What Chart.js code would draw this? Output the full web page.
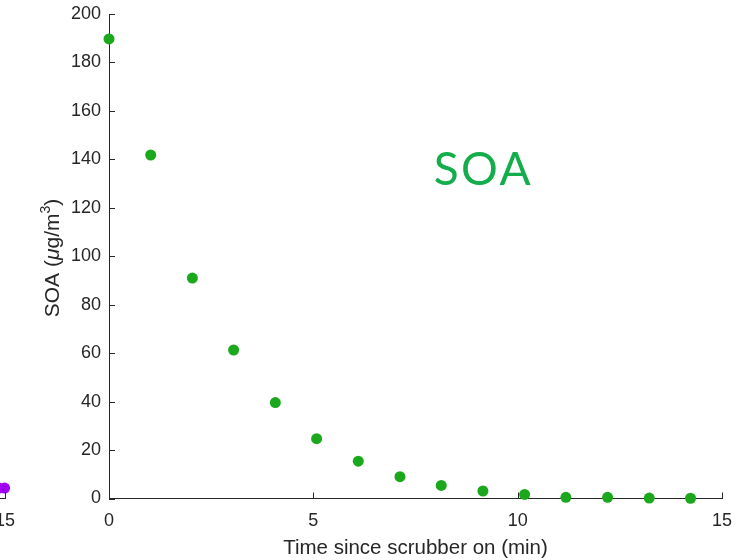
<!DOCTYPE html>
<html>
<head>
<meta charset="utf-8">
<script src="https://cdn.jsdelivr.net/npm/chart.js@4.4.0/dist/chart.umd.min.js"></script>
<style>
  html, body { margin: 0; padding: 0; background: #fff; overflow: hidden; }
  #wrap { position: relative; width: 756px; height: 560px; }
  #prevChart { position: absolute; left: -620px; top: 0; }
  #soaChart { position: absolute; left: 0; top: 0; }
</style>
</head>
<body>
<div id="wrap">
  <canvas id="prevChart" width="640" height="560"></canvas>
  <canvas id="soaChart" width="756" height="560"></canvas>
</div>
<script>
// SOA decay after the scrubber is switched on
const timeMin = [0, 1.02, 2.04, 3.05, 4.07, 5.08, 6.1, 7.12, 8.13, 9.15, 10.17, 11.18, 12.2, 13.22, 14.23];
const soa = [189.7, 141.8, 91.0, 61.3, 39.6, 24.7, 15.4, 9.0, 5.4, 3.1, 1.7, 0.5, 0.5, 0.2, 0.1];

// tail of the neighbouring panel
const prevTime = [14.85, 14.99];
const prevValue = [4.3, 4.3];

const xTicks = [0, 5, 10, 15];
const yTicks = [0, 20, 40, 60, 80, 100, 120, 140, 160, 180, 200];

const axisColor = '#262626';
const tickFont = { family: 'Liberation Sans, Arial, sans-serif', size: 18 };

// MATLAB-style ticks pointing into the axes
const inwardTicks = {
  id: 'inwardTicks',
  afterDraw(chart) {
    const { ctx, chartArea } = chart;
    ctx.save();
    ctx.strokeStyle = axisColor;
    ctx.lineWidth = 1;
    const x = chart.scales.x;
    xTicks.forEach(v => {
      const px = Math.round(x.getPixelForValue(v)) + 0.5;
      ctx.beginPath();
      ctx.moveTo(px, chartArea.bottom);
      ctx.lineTo(px, chartArea.bottom - 6);
      ctx.stroke();
    });
    const y = chart.scales.y;
    if (y.options.display) {
      yTicks.forEach(v => {
        const py = Math.round(y.getPixelForValue(v)) + 0.5;
        ctx.beginPath();
        ctx.moveTo(chartArea.left, py);
        ctx.lineTo(chartArea.left + 6, py);
        ctx.stroke();
      });
    }
    ctx.restore();
  }
};

// axis titles (italic mu, superscript 3) and the in-plot label
const soaText = {
  id: 'soaText',
  afterDraw(chart) {
    const { ctx, chartArea } = chart;
    ctx.save();
    ctx.fillStyle = axisColor;
    ctx.textBaseline = 'alphabetic';
    const base = '21px Liberation Sans, Arial, sans-serif';
    const ital = 'italic 21px Liberation Sans, Arial, sans-serif';
    const sup = '14px Liberation Sans, Arial, sans-serif';
    const parts = [
      { t: 'SOA (', f: base, dy: 0 },
      { t: 'μ', f: ital, dy: 0 },
      { t: 'g/m', f: base, dy: 0 },
      { t: '3', f: sup, dy: -9 },
      { t: ')', f: base, dy: 0 }
    ];
    let total = 0;
    parts.forEach(p => { ctx.font = p.f; p.w = ctx.measureText(p.t).width; total += p.w; });
    ctx.translate(59, 258);
    ctx.rotate(-Math.PI / 2);
    let cx = -total / 2;
    parts.forEach(p => {
      ctx.font = p.f;
      ctx.fillText(p.t, cx, p.dy);
      cx += p.w;
    });
    ctx.restore();

    ctx.save();
    ctx.fillStyle = axisColor;
    ctx.font = '20.5px Liberation Sans, Arial, sans-serif';
    ctx.textAlign = 'center';
    ctx.textBaseline = 'middle';
    ctx.fillText('Time since scrubber on (min)', (chartArea.left + chartArea.right) / 2, 548);
    ctx.restore();

    ctx.save();
    ctx.fillStyle = '#13ad4b';
    ctx.font = '46px Lato, sans-serif';
    ctx.letterSpacing = '2.5px';
    ctx.textAlign = 'center';
    ctx.textBaseline = 'middle';
    ctx.fillText('SOA', chart.scales.x.getPixelForValue(9.15) + 0.5, chart.scales.y.getPixelForValue(135.6));
    ctx.restore();
  }
};

function xScale() {
  return {
    type: 'linear',
    min: 0,
    max: 15,
    afterBuildTicks(scale) { scale.ticks = xTicks.map(v => ({ value: v })); },
    afterFit(scale) { scale.height = 61.5; },
    grid: { display: false },
    border: { display: true, color: axisColor, width: 1 },
    ticks: { color: axisColor, font: tickFont, padding: 4, maxRotation: 0 }
  };
}

new Chart(document.getElementById('soaChart'), {
  type: 'scatter',
  data: {
    datasets: [{
      data: timeMin.map((t, i) => ({ x: t, y: soa[i] })),
      backgroundColor: '#1ca81c',
      borderWidth: 0,
      pointRadius: 5.5,
      clip: false
    }]
  },
  options: {
    responsive: false,
    animation: false,
    layout: { padding: { left: 0, right: 34, top: 14, bottom: 0 } },
    plugins: { legend: { display: false }, tooltip: { enabled: false } },
    scales: {
      x: xScale(),
      y: {
        type: 'linear',
        min: 0,
        max: 200,
        afterBuildTicks(scale) { scale.ticks = yTicks.map(v => ({ value: v })); },
        afterFit(scale) { scale.width = 109; },
        grid: { display: false },
        border: { display: true, color: axisColor, width: 1 },
        ticks: { color: axisColor, font: tickFont, padding: 0 }
      }
    }
  },
  plugins: [inwardTicks, soaText]
});

new Chart(document.getElementById('prevChart'), {
  type: 'scatter',
  data: {
    datasets: [{
      data: prevTime.map((t, i) => ({ x: t, y: prevValue[i] })),
      backgroundColor: '#a000f5',
      borderWidth: 0,
      pointRadius: 5.5,
      clip: false
    }]
  },
  options: {
    responsive: false,
    animation: false,
    layout: { padding: { left: 20, right: 15, top: 14, bottom: 0 } },
    plugins: { legend: { display: false }, tooltip: { enabled: false } },
    scales: {
      x: xScale(),
      y: { type: 'linear', min: 0, max: 200, display: false }
    }
  },
  plugins: [inwardTicks]
});
</script>
</body>
</html>
